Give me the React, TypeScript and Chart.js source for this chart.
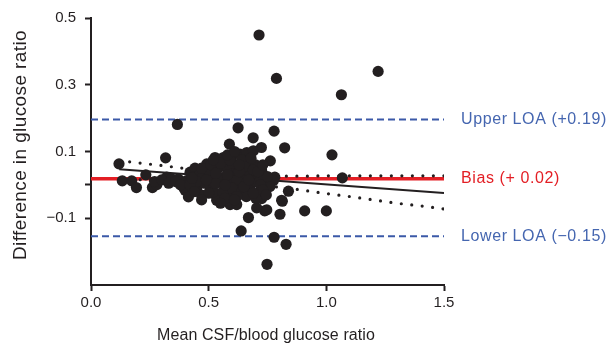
import React, { useEffect, useRef } from "react";
import { Chart, registerables } from "chart.js";

Chart.register(...registerables);

// Mean CSF/blood glucose ratio (x) and difference in glucose ratio (y)
const meanRatio = [
  0.714, 0.788, 1.22, 1.064, 0.367, 0.625, 0.778, 0.689, 0.588, 0.724,
  0.823, 1.024, 0.762, 1.068, 0.781, 0.839, 0.813, 0.803, 0.908, 1.0,
  0.738, 0.704, 0.669, 0.638, 0.778, 0.829, 0.748, 0.591, 0.619,
  0.119, 0.317, 0.133, 0.173, 0.193, 0.233, 0.261, 0.28, 0.322, 0.343,
  0.371, 0.4, 0.414, 0.393, 0.407, 0.421, 0.442, 0.449,
  0.492, 0.527, 0.562, 0.598, 0.633, 0.662, 0.69, 0.562, 0.676, 0.725,
  0.718, 0.775, 0.435, 0.477, 0.52, 0.605, 0.647, 0.449, 0.506, 0.562,
  0.619, 0.676, 0.47, 0.534, 0.592, 0.718, 0.725, 0.534, 0.81, 0.747,
  0.54, 0.58, 0.62, 0.66, 0.7, 0.6, 0.64, 0.68, 0.5, 0.46,
  0.55, 0.58, 0.62, 0.66, 0.7, 0.74, 0.76, 0.52, 0.56, 0.6,
  0.64, 0.66, 0.7, 0.62, 0.57, 0.5, 0.48, 0.68, 0.72, 0.75,
  0.65, 0.58, 0.53, 0.63, 0.69, 0.73, 0.45,
  0.27, 0.3, 0.33, 0.36, 0.38,
  0.42, 0.43, 0.47, 0.49, 0.51, 0.53, 0.55, 0.57, 0.59, 0.61,
  0.63, 0.65, 0.67, 0.69, 0.71, 0.73, 0.745, 0.55, 0.47, 0.52,
  0.58, 0.61, 0.44,
];
const diffRatio = [
  0.449, 0.319, 0.34, 0.27, 0.181, 0.171, 0.161, 0.141, 0.122, 0.112,
  0.111, 0.09, 0.072, 0.021, 0.023, -0.019, -0.049, -0.088, -0.078, -0.078,
  -0.078, -0.069, -0.098, -0.138, -0.157, -0.178, -0.238, -0.059, -0.059,
  0.063, 0.081, 0.012, 0.012, -0.008, 0.03, -0.008, 0.001, 0.023, 0.018,
  0.018, -0.016, -0.036, -0.007, 0.013, 0.038, 0.05, -0.016,
  0.063, 0.082, 0.082, 0.087, 0.092, 0.097, 0.102, 0.063, 0.063, 0.043,
  0.028, 0.013, 0.023, 0.033, 0.023, 0.033, 0.023, -0.007, -0.007, 0.004,
  -0.001, -0.011, -0.031, -0.036, -0.026, -0.021, -0.041, -0.046, -0.046, -0.075,
  0.05, 0.045, 0.05, 0.045, 0.06, 0.065, 0.075, 0.08, 0.045, 0.03,
  0.02, 0.015, 0.015, 0.005, 0.01, 0.005, -0.005, -0.02, -0.02, -0.01,
  -0.02, -0.035, -0.04, -0.035, -0.04, -0.025, 0.005, 0.03, 0.0, 0.025,
  0.055, 0.03, 0.005, 0.04, 0.045, -0.015, 0.01,
  0.01, 0.015, 0.005, 0.01, 0.0,
  0.0, 0.02, 0.05, 0.015, 0.06, 0.035, 0.065, 0.0, 0.075, -0.045,
  0.06, -0.005, 0.015, -0.025, 0.04, 0.06, -0.03, -0.055, -0.045, 0.075,
  0.09, 0.1, -0.02,
];

// Regression line
const fitX = [0.12, 1.5];
const fitY = [0.047, -0.024];

// Confidence band of regression (dotted)
const bandX = [0.12, 0.2, 0.3, 0.4, 0.5, 0.6, 0.7, 0.8, 0.9, 1.0, 1.1, 1.2, 1.3, 1.4, 1.5];
const upperBand = [0.073, 0.066, 0.058, 0.049, 0.04, 0.033, 0.028, 0.026, 0.026, 0.027, 0.027, 0.027, 0.027, 0.027, 0.027];
const lowerBand = [0.02, 0.016, 0.014, 0.013, 0.01, 0.006, 0.0, -0.007, -0.016, -0.026, -0.035, -0.045, -0.055, -0.063, -0.072];

// Bias and limits of agreement
const upperLoa = 0.196;
const biasValue = 0.018;
const lowerLoa = -0.154;
const loaRange = [0, 1.5];

const yTicks = [0.5, 0.3, 0.1, 0, -0.1];
const yTickLabels = ["0.5", "0.3", "0.1", "", "\u22120.1"];
const xTicks = [0, 0.5, 1.0, 1.5];
const xTickLabels = ["0.0", "0.5", "1.0", "1.5"];

const xTitle = "Mean CSF/blood glucose ratio";
const yTitle = "Difference in glucose ratio";
const upperLabel = "Upper LOA (+0.19)";
const biasLabel = "Bias (+ 0.02)";
const lowerLabel = "Lower LOA (\u22120.15)";

const INK = "#231f20";
const BLUE = "#3b59a8";
const BLUE_TEXT = "#4566b0";
const RED = "#e31e24";
const FONT = "'Liberation Sans', Arial, sans-serif";

export default function App() {
  const ref = useRef<HTMLCanvasElement>(null);

  useEffect(() => {
    if (!ref.current) return;
    const pts = meanRatio.map((x, i) => ({ x, y: diffRatio[i] }));
    const hLine = (v: number) => loaRange.map((x) => ({ x, y: v }));

    const labelsPlugin = {
      id: "labelsPlugin",
      afterDraw(chart: any) {
        const ctx = chart.ctx;
        const ys = chart.scales.y;
        const area = chart.chartArea;
        ctx.save();
        ctx.textBaseline = "middle";
        ctx.textAlign = "left";
        ctx.font = `16px ${FONT}`;
        (ctx as any).letterSpacing = "0.6px";
        ctx.fillStyle = BLUE_TEXT;
        ctx.fillText(upperLabel, 461, ys.getPixelForValue(upperLoa));
        ctx.fillText(lowerLabel, 461, ys.getPixelForValue(lowerLoa));
        ctx.fillStyle = RED;
        ctx.fillText(biasLabel, 461, ys.getPixelForValue(biasValue));
        // axis titles
        ctx.fillStyle = INK;
        ctx.textAlign = "center";
        ctx.font = `16px ${FONT}`;
        (ctx as any).letterSpacing = "0.1px";
        ctx.fillText(xTitle, 266, 336);
        ctx.translate(21, 145);
        ctx.rotate(-Math.PI / 2);
        ctx.font = `19px ${FONT}`;
        (ctx as any).letterSpacing = "0.4px";
        ctx.fillText(yTitle, 0, 0);
        ctx.restore();
      },
    };

    const chart = new Chart(ref.current, {
      type: "scatter",
      data: {
        datasets: [
          {
            label: "points",
            data: pts,
            backgroundColor: INK,
            borderColor: INK,
            pointRadius: 5.6,
            borderWidth: 0,
            order: 0,
          },
          {
            type: "line",
            label: "bias",
            data: hLine(biasValue),
            borderColor: RED,
            borderWidth: 3.5,
            pointRadius: 0,
            order: 5,
          },
          {
            type: "line",
            label: "upper",
            data: hLine(upperLoa),
            borderColor: BLUE,
            borderWidth: 2,
            borderDash: [7, 4],
            pointRadius: 0,
            order: 5,
          },
          {
            type: "line",
            label: "lower",
            data: hLine(lowerLoa),
            borderColor: BLUE,
            borderWidth: 2,
            borderDash: [7, 4],
            pointRadius: 0,
            order: 5,
          },
          {
            type: "line",
            label: "fit",
            data: fitX.map((x, i) => ({ x, y: fitY[i] })),
            borderColor: INK,
            borderWidth: 2,
            pointRadius: 0,
            order: 3,
          },
          {
            type: "line",
            label: "upperBand",
            data: bandX.map((x, i) => ({ x, y: upperBand[i] })),
            borderColor: INK,
            borderWidth: 3.2,
            borderDash: [0, 10.5],
            borderCapStyle: "round",
            pointRadius: 0,
            cubicInterpolationMode: "monotone",
            order: 3,
          },
          {
            type: "line",
            label: "lowerBand",
            data: bandX.map((x, i) => ({ x, y: lowerBand[i] })),
            borderColor: INK,
            borderWidth: 3.2,
            borderDash: [0, 10.5],
            borderCapStyle: "round",
            pointRadius: 0,
            cubicInterpolationMode: "monotone",
            order: 3,
          },
        ],
      } as any,
      options: {
        responsive: false,
        animation: false,
        devicePixelRatio: 1,
        layout: { padding: { top: 16, right: 167, bottom: 0, left: 0 } },
        plugins: {
          legend: { display: false },
          tooltip: { enabled: false },
        },
        scales: {
          x: {
            type: "linear",
            min: 0,
            max: 1.5,
            afterBuildTicks: (s: any) => {
              s.ticks = xTicks.map((v) => ({ value: v }));
            },
            afterFit: (s: any) => {
              s.height = 62;
            },
            ticks: {
              callback: (_v: any, i: number) => xTickLabels[i],
              font: { size: 15, family: FONT },
              color: INK,
              padding: 3,
              maxRotation: 0,
            },
            grid: {
              drawOnChartArea: false,
              drawTicks: true,
              tickLength: 6,
              tickWidth: 2,
              tickColor: INK,
            },
            border: { display: true, color: INK, width: 2 },
          },
          y: {
            type: "linear",
            min: -0.3,
            max: 0.5,
            afterBuildTicks: (s: any) => {
              s.ticks = yTicks.map((v) => ({ value: v }));
            },
            afterFit: (s: any) => {
              s.width = 91;
            },
            ticks: {
              callback: (_v: any, i: number) => yTickLabels[i],
              font: { size: 15, family: FONT },
              color: INK,
              padding: 9,
            },
            grid: {
              drawOnChartArea: false,
              drawTicks: true,
              tickLength: 6,
              tickWidth: 2,
              tickColor: INK,
            },
            border: { display: true, color: INK, width: 2 },
          },
        },
      } as any,
      plugins: [labelsPlugin],
    });
    return () => chart.destroy();
  }, []);

  return (
    <div style={{ position: "absolute", left: 0, top: 0, width: 611, height: 347, background: "#fff" }}>
      <canvas ref={ref} width={611} height={347} />
    </div>
  );
}
